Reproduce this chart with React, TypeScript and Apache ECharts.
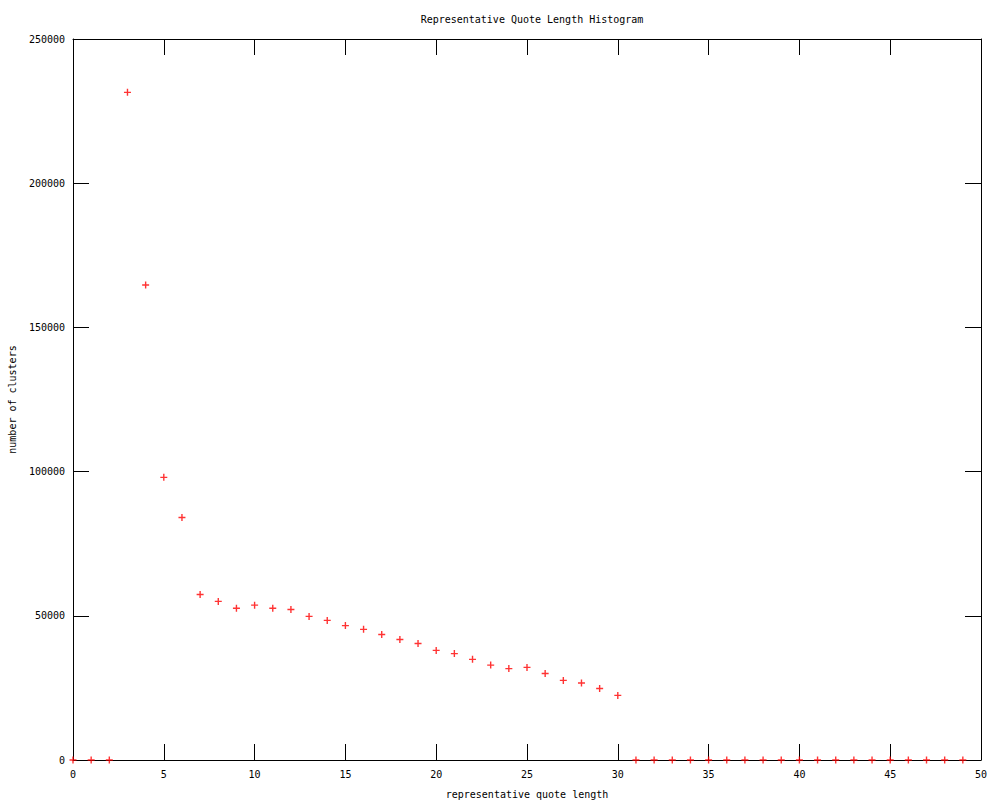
import React, { useEffect, useRef } from "react";
import * as echarts from "echarts";

const title = "Representative Quote Length Histogram";
const xName = "representative quote length";
const yName = "number of clusters";

const quoteLengths = [
  0, 1, 2, 3, 4, 5, 6, 7, 8, 9, 10, 11, 12, 13, 14, 15, 16, 17, 18, 19, 20,
  21, 22, 23, 24, 25, 26, 27, 28, 29, 30, 31, 32, 33, 34, 35, 36, 37, 38, 39,
  40, 41, 42, 43, 44, 45, 46, 47, 48, 49,
];
const clusterCounts = [
  0, 0, 0, 231500, 164700, 98000, 84100, 57400, 55000, 52600, 53700, 52600,
  52200, 49800, 48400, 46600, 45300, 43500, 41800, 40400, 38000, 36900, 34900,
  32900, 31700, 32100, 30000, 27600, 26700, 24800, 22400, 0, 0, 0, 0, 0, 0, 0,
  0, 0, 0, 0, 0, 0, 0, 0, 0, 0, 0, 0,
];

const FONT = "'DejaVu Sans Mono', monospace";
const PLUS = "path://M2.8,0H4.2V2.8H7V4.2H4.2V7H2.8V4.2H0V2.8H2.8Z";

export default function App() {
  const ref = useRef<HTMLDivElement>(null);
  useEffect(() => {
    if (!ref.current) return;
    const chart = echarts.init(ref.current, null, { renderer: "svg" });
    const axisCommon = {
      min: 0,
      axisLine: { show: true, onZero: false, lineStyle: { color: "#000", width: 1 } },
      axisTick: { show: true, inside: true, length: 16, lineStyle: { color: "#000", width: 1 } },
      splitLine: { show: false },
    };
    chart.setOption({
      animation: false,
      backgroundColor: "#fff",
      title: {
        text: title,
        left: 527,
        top: 9,
        textAlign: "center",
        textStyle: { fontFamily: FONT, fontSize: 10, fontWeight: "normal", color: "#000" },
      },
      grid: {
        left: 73,
        right: 19,
        top: 39,
        bottom: 40,
        show: false,
        containLabel: false,
        outerBoundsMode: "none",
      },
      xAxis: [
        {
          ...axisCommon,
          type: "value",
          max: 50,
          interval: 5,
          position: "bottom",
          name: xName,
          nameLocation: "middle",
          nameGap: 29,
          nameTextStyle: { fontFamily: FONT, fontSize: 10, color: "#000" },
          axisLabel: { fontFamily: FONT, fontSize: 10, color: "#000", margin: 9 },
        },
        {
          ...axisCommon,
          type: "value",
          max: 50,
          interval: 5,
          position: "top",
          axisLabel: { show: false },
        },
      ],
      yAxis: [
        {
          ...axisCommon,
          type: "value",
          max: 250000,
          interval: 50000,
          position: "left",
          name: yName,
          nameLocation: "middle",
          nameGap: 55,
          nameTextStyle: { fontFamily: FONT, fontSize: 10, color: "#000" },
          axisLabel: {
            fontFamily: FONT,
            fontSize: 10,
            color: "#000",
            margin: 8,
            formatter: (v: number) => String(v),
          },
        },
        {
          ...axisCommon,
          type: "value",
          max: 250000,
          interval: 50000,
          position: "right",
          axisLabel: { show: false },
        },
      ],
      series: [
        {
          type: "scatter",
          xAxisIndex: 0,
          yAxisIndex: 0,
          clip: false,
          symbol: PLUS,
          symbolSize: 7,
          itemStyle: { color: "#ff0000" },
          z: 10,
          data: quoteLengths.map((x, i) => [x, clusterCounts[i]]),
        },
      ],
    });
    return () => chart.dispose();
  }, []);
  return (
    <div
      ref={ref}
      style={{ position: "absolute", left: 0, top: 0, width: 1000, height: 800 }}
    />
  );
}
